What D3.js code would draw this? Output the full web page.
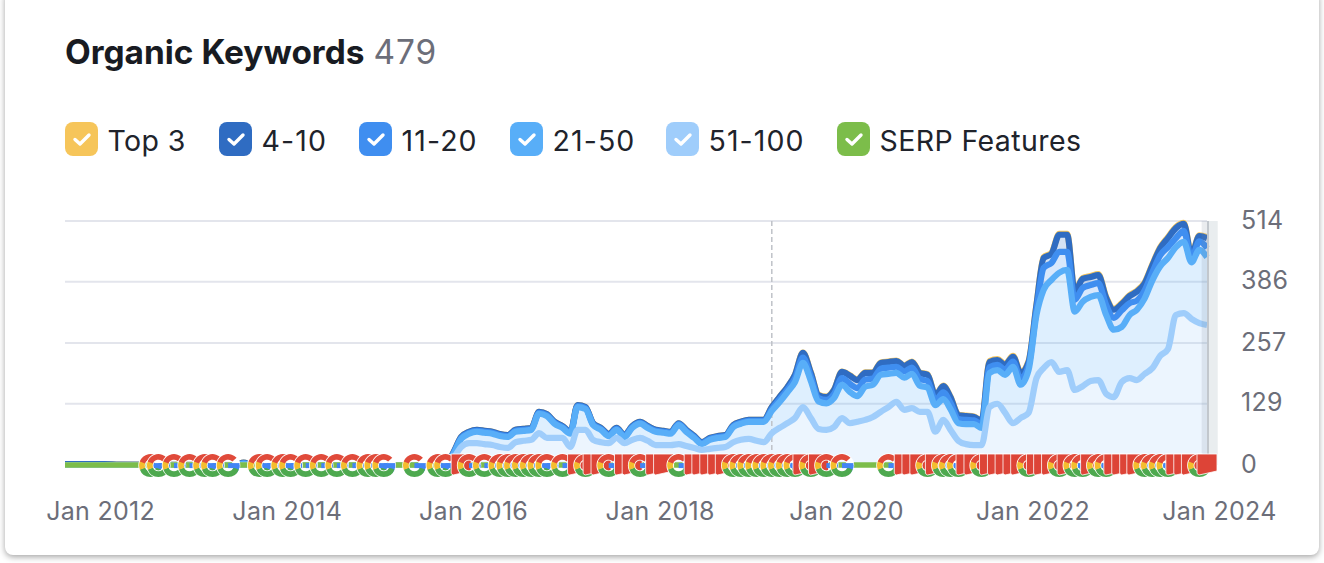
<!DOCTYPE html>
<html><head><meta charset="utf-8">
<script src="https://cdn.jsdelivr.net/npm/d3@7"></script>
<style>
html,body{margin:0;padding:0;background:#fff;width:1324px;height:563px;overflow:hidden}
#card{position:absolute;left:5px;top:-10px;width:1314px;height:565px;background:#fff;border-radius:8px;box-shadow:0 2px 6px rgba(0,0,0,.36)}
svg{position:absolute;left:0;top:0}
text{font-family:Inter,"Noto Sans",sans-serif}
</style></head><body>
<div id="card"></div>
<svg id="chart" width="1324" height="563"></svg>
<script>
// ---------- data ----------
const titleText = "Organic Keywords";
const titleCount = "479";
const legendLabels = ["Top 3","4-10","11-20","21-50","51-100","SERP Features"];
const yTicks = [0,129,257,386,514];
const xTickLabels = ["2012-01","2014-01","2016-01","2018-01","2020-01","2022-01","2024-01"];
const earlyMonths = ["2011-09","2011-11","2012-02","2012-04","2013-07","2013-08","2013-09","2015-10"];

const top3 = [0,0,0,0,0,0,0,0,
 0,0,0,0,0,0,0,0,0,0, 0,0,0,0,0,0,0,0,0,0, 0,0,0,0,0,0,0,0,0,0, 0,0,0,0,0,0,0,0,0,0, 0,0,0,0,0,
 1,1,1,1,1,1,1,1,1,1, 1,1,1,1,1,1,1,1,1,1, 1,1,1,1,
 2,2,2,2,2,2,2,2,2,2, 2,2,2,2,2,2,2,2,2,2, 2,2,2,2,2,2,2,2,2];
const pos4to10 = [2,2,2,1,0,2,0,0,
 2,2,2,2,2,2,2,2,2,2, 2,2,2,2,2,2,2,2,2,2, 2,2,2,2,2,2,2,2,2,2, 2,2,2,2,2,2,2,2,2,2, 2,
 4,5,5,7,10,8,6,6,8,13, 17,17,14,12,12,12,12,12,12,13, 13,10,13,12,8,8,7,7,
 11,10,10,10,12,8,10,21,19,36, 36,17,19,17,17,15,17,13,15,19, 15,15,15,19,21,15,6,11,21];
const pos11to20 = [0,0,0,0,0,0,0,0,
 2,2,2,2,2,2,2,2,2,2, 2,2,2,2,2,2,2,2,2,2, 2,2,2,2,2,2,2,2,2,2, 2,2,2,2,2,2,2,2,2,2, 2,
 4,6,6,8,11,9,7,7,9,14, 17,17,15,13,13,13,13,13,13,14, 14,11,14,13,9,9,8,8,
 12,11,11,11,13,9,11,46,36,44, 38,25,29,25,25,21,25,35,25,19, 17,17,23,23,19,23,9,18,19];
const pos21to50 = [0,0,0,0,0,3,0,0,
 8,17,20,24,24,24,23,23,22,21, 21,41,46,30,21,28,48,44,31,26, 15,17,13,25,30,27,28,26,24,40, 30,21,12,19,21,21,32,34,36,40, 43,
 47,54,65,76,93,78,58,56,61,70, 66,54,70,68,78,70,61,68,72,55, 51,56,44,44,37,42,44,36,
 72,71,80,119,70,90,133,165,173,209, 211,165,178,177,179,166,142,116,133,148, 159,185,189,192,143,150,119,154,143];
const pos51to100 = [0,0,0,0,0,0,0,0,
 15,38,46,46,44,42,38,36,48,51, 53,67,57,57,57,38,74,74,53,48, 46,57,46,53,57,51,42,42,42,44, 40,36,32,34,36,38,48,53,55,51, 48,
 67,78,88,99,122,99,76,74,80,99, 88,91,95,101,112,122,133,116,120,112, 112,70,95,74,51,44,42,42,
 122,129,110,88,99,110,183,204,217,196, 200,158,166,177,179,150,143,175,183,179, 192,204,230,244,316,320,308,299,295];

const serpMonths = ["2011-09","2023-12"];
const serpValues = [0,0];
const noteMonth = "2019-04";
const shadeMonths = ["2023-11-10","2023-12-01","2024-01-12"];

const googleMonths = [7,8,10,12,14,15,17,21,22,24,25,27,29,31,33,35,36,37,41,44,45,48,50,52,53,54,55,56,57,58,60,63,66,70,75,82,83,84,85,86,87,88,89,90,92,94,96,102,107,109,110,111,114,120,124,126,127,129,130,135,136,137,138,142];
const alertMonths = [47,62,64,65,68,69,72,73,77,78,79,80,81,91,93,104,105,106,108,112,113,115,116,117,118,119,121,122,123,125,128,131,132,133,134,139,140,141,143];

// ---------- styles ----------
const colors = {top3:"#f6c55a",pos4to10:"#2f6cc2",pos11to20:"#3f8ef0",pos21to50:"#58aef8",pos51to100:"#9fcdfb",serp:"#7cbd4a"};
const legendColors = [colors.top3,colors.pos4to10,colors.pos11to20,colors.pos21to50,colors.pos51to100,colors.serp];
const legendX = [65,219,359,510,666,837];
const parse = d3.utcParse("%Y-%m"), parseD = d3.utcParse("%Y-%m-%d");
const monthsAfterStart = m => d3.utcMonth.offset(new Date(Date.UTC(2012,0,1)), m);

const svg = d3.select("#chart");
const x = d3.scaleUtc().domain([parse("2011-09"),parse("2023-12")]).range([65,1207]);
const y = d3.scaleLinear().domain([0,514]).range([465,221]);

// title
const t = svg.append("text").attr("x",65).attr("y",64).attr("font-size",33.4);
t.append("tspan").attr("font-weight",700).attr("fill","#181b22").text(titleText);
t.append("tspan").attr("dx",9).attr("font-weight",400).attr("fill","#6c6e79").attr("letter-spacing",1).text(titleCount);

// legend
const lg = svg.selectAll(".lg").data(legendLabels).join("g").attr("class","lg")
  .attr("transform",(d,i)=>`translate(${legendX[i]},122)`);
lg.append("rect").attr("width",33).attr("height",34).attr("rx",8).attr("fill",(d,i)=>legendColors[i]);
lg.append("path").attr("d","M10 17.5l5 4.5l9 -9").attr("fill","none").attr("stroke","#fff").attr("stroke-width",3.4).attr("stroke-linecap","round").attr("stroke-linejoin","round");
lg.append("text").attr("x",42.5).attr("y",29).attr("font-size",28.5)
  .attr("letter-spacing",d=>/\d-\d/.test(d)?1.1:0.4).attr("fill","#20232b").text(d=>d);

// grid
svg.append("g").selectAll("line").data(yTicks).join("line")
  .attr("x1",65).attr("x2",x(parse("2023-12"))).attr("y1",d=>y(d)).attr("y2",d=>y(d))
  .attr("stroke","#e3e5ec").attr("stroke-width",2);

// shading at latest period
svg.append("rect").attr("x",x(parseD(shadeMonths[1]))).attr("y",221).attr("width",x(parseD(shadeMonths[2]))-x(parseD(shadeMonths[1]))).attr("height",244).attr("fill","#e9edef");

// stacked data
const dates = earlyMonths.map(parse).concat(d3.utcMonth.range(parse("2015-11"),parse("2024-01")));
const rows = dates.map((d,i)=>({date:d,b51:pos51to100[i],b21:pos21to50[i],b11:pos11to20[i],b4:pos4to10[i],t3:top3[i]}));
const keys = ["b51","b21","b11","b4","t3"];
const keyColor = {b51:colors.pos51to100,b21:colors.pos21to50,b11:colors.pos11to20,b4:colors.pos4to10,t3:colors.top3};
const stacked = d3.stack().keys(keys)(rows);
const curve = d3.curveMonotoneX;
const area = d3.area().x(d=>x(d.data.date)).y0(d=>y(d[0])).y1(d=>y(d[1])).curve(curve);
const line = d3.line().x(d=>x(d.data.date)).y(d=>y(d[1])).curve(curve);
svg.append("g").selectAll("path").data(stacked).join("path").attr("d",area)
  .attr("fill",s=>keyColor[s.key]).attr("fill-opacity",.2);

// dashed note line
svg.append("line").attr("x1",x(parse(noteMonth))).attr("x2",x(parse(noteMonth))).attr("y1",221).attr("y2",465)
  .attr("stroke","#bfc2c8").attr("stroke-width",1.5).attr("stroke-dasharray","5 3");

svg.append("g").selectAll("path").data(stacked.slice().reverse()).join("path").attr("d",line)
  .attr("fill","none").attr("stroke",s=>keyColor[s.key]).attr("stroke-width",6.2).attr("stroke-linejoin","round").attr("stroke-linecap","butt");

// hover band
svg.append("rect").attr("x",x(parseD(shadeMonths[0]))).attr("y",221).attr("width",x(parseD(shadeMonths[1]))-x(parseD(shadeMonths[0]))).attr("height",244).attr("fill","#7b8a99").attr("fill-opacity",.16);
svg.append("line").attr("x1",x(parseD(shadeMonths[1]))+1).attr("x2",x(parseD(shadeMonths[1]))+1).attr("y1",221).attr("y2",465).attr("stroke","#c2c7cd").attr("stroke-width",2);

// SERP line
const serpLine = d3.line().x((d,i)=>x(parse(serpMonths[i]))).y(d=>y(d));
svg.append("path").attr("d",serpLine(serpValues)).attr("fill","none").attr("stroke",colors.serp).attr("stroke-width",5.5);

// markers
const R=8.6, W=5.6;
const arcG = d3.arc().innerRadius(R-W/2).outerRadius(R+W/2);
const deg = Math.PI/180;
const gSegs = [
 {c:"#4285f4",a:88,b:135},
 {c:"#4ea94f",a:110,b:250},
 {c:"#f4bd2e",a:-112,b:-62},
 {c:"#e04a3a",a:-70,b:48}];
const markers = googleMonths.map(m=>({m,k:"g"})).concat(alertMonths.map(m=>({m,k:"r"}))).sort((a,b)=>a.m-b.m);
const mk = svg.append("g").selectAll("g").data(markers).join("g")
  .attr("transform",d=>`translate(${x(monthsAfterStart(d.m))},465.5)`);
mk.filter(d=>d.k==="g").each(function(){
  const g=d3.select(this);
  g.append("circle").attr("r",R).attr("fill","none").attr("stroke","#fff").attr("stroke-width",W+1.6);
  gSegs.forEach(s=>g.append("path").attr("d",arcG({startAngle:s.a*deg,endAngle:s.b*deg})).attr("fill",s.c));
  g.append("rect").attr("x",0).attr("y",-2.4).attr("width",R+W/2).attr("height",5).attr("fill","#4285f4");
});
mk.filter(d=>d.k==="r").append("path").attr("d","M-10 -11.5H10V5.5L-8 9.5L-10 8Z")
  .attr("fill","#dd4437").attr("stroke","#fff").attr("stroke-width",.8);

// axes
const yAxis = d3.axisRight(y).tickValues(yTicks).tickSize(0).tickPadding(0);
const yg = svg.append("g").attr("transform","translate(1241,-1)").call(yAxis);
yg.select(".domain").remove();
yg.selectAll("text").attr("font-size",25).attr("fill","#6c6e79").attr("font-family","Inter").attr("letter-spacing",.3);
const xAxis = d3.axisBottom(x).tickValues(xTickLabels.map(parse)).tickSize(0).tickPadding(0).tickFormat(d3.utcFormat("%b %Y"));
const xg = svg.append("g").attr("transform","translate(4,502)").call(xAxis);
xg.select(".domain").remove();
xg.selectAll("text").attr("font-size",25).attr("fill","#6c6e79").attr("font-family","Inter").attr("letter-spacing",.3);
</script>
</body></html>
